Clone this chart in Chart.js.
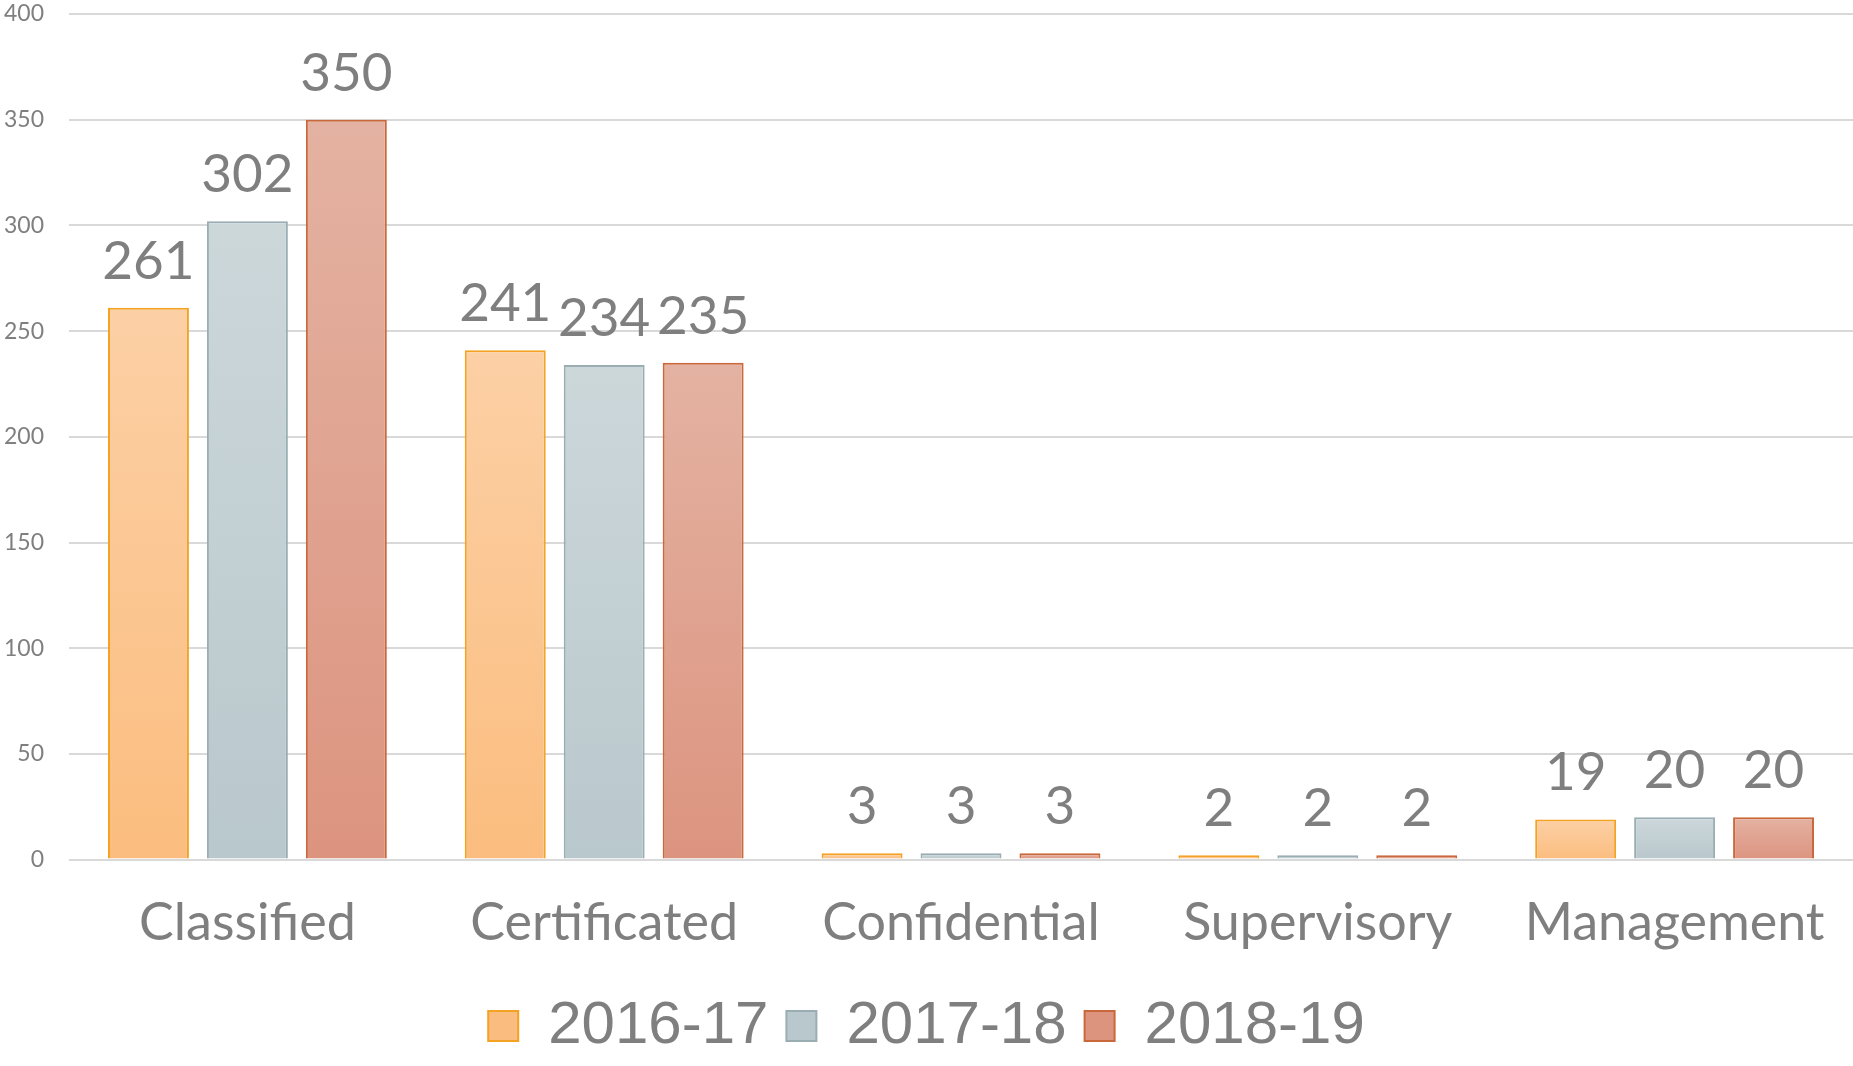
<!DOCTYPE html>
<html>
<head>
<meta charset="utf-8">
<script src="https://cdn.jsdelivr.net/npm/chart.js@4.4.1/dist/chart.umd.min.js"></script>
<style>
  html, body { margin: 0; padding: 0; background: #fff; }
  #wrap { width: 1853px; height: 1066px; }
</style>
</head>
<body>
<div id="wrap"><canvas id="grafico" width="1853" height="1066"></canvas></div>
<script>
const categorias = ['Classified', 'Certificated', 'Confidential', 'Supervisory', 'Management'];
const serie201617 = [261, 241, 3, 2, 19];
const serie201718 = [302, 234, 3, 2, 20];
const serie201819 = [350, 235, 3, 2, 20];
const yTicks = [0, 50, 100, 150, 200, 250, 300, 350, 400];

const gris = '#7f7f7f';

// relleno degradado por barra (claro arriba, más oscuro abajo)
function relleno(arriba, abajo) {
  return (c) => {
    const chart = c.chart;
    if (!chart.chartArea || c.type !== 'data') return abajo;
    const y = chart.scales.y;
    const y0 = y.getPixelForValue(0);
    const y1 = y.getPixelForValue(c.raw);
    if (y0 - y1 < 1) return arriba;
    const g = chart.ctx.createLinearGradient(0, y1, 0, y0);
    g.addColorStop(0, arriba);
    g.addColorStop(1, abajo);
    return g;
  };
}

// etiquetas de valor encima de cada barra
const etiquetas = {
  id: 'etiquetas',
  afterDatasetsDraw(chart) {
    const ctx = chart.ctx;
    ctx.save();
    ctx.font = '53px Lato';
    ctx.fillStyle = gris;
    ctx.textAlign = 'center';
    ctx.textBaseline = 'alphabetic';
    chart.data.datasets.forEach((ds, i) => {
      chart.getDatasetMeta(i).data.forEach((bar, j) => {
        ctx.fillText(String(ds.data[j]), bar.x, bar.y - 29);
      });
    });
    ctx.restore();
  }
};

const ctx = document.getElementById('grafico').getContext('2d');
const grafico = new Chart(ctx, {
  type: 'bar',
  data: {
    labels: categorias,
    datasets: [
      {
        label: '2016-17',
        data: serie201617,
        backgroundColor: relleno('#fcd0a5', '#fbbd7f'),
        borderColor: '#f4a223',
        borderWidth: 2
      },
      {
        label: '2017-18',
        data: serie201718,
        backgroundColor: relleno('#ccd7da', '#b9c8cd'),
        borderColor: '#9aadb3',
        borderWidth: 2
      },
      {
        label: '2018-19',
        data: serie201819,
        backgroundColor: relleno('#e4b2a2', '#dc947f'),
        borderColor: '#c9683a',
        borderWidth: 2
      }
    ]
  },
  options: {
    responsive: false,
    animation: false,
    layout: { padding: { left: 0, right: 0, top: 0, bottom: 0 } },
    datasets: {
      bar: { categoryPercentage: 0.832, barPercentage: 0.818 }
    },
    scales: {
      x: {
        grid: { display: false },
        border: { display: false },
        ticks: { color: gris, font: { family: 'Lato', size: 52 }, padding: 24 }
      },
      y: {
        min: 0,
        max: 400,
        afterBuildTicks: (axis) => { axis.ticks = yTicks.map(v => ({ value: v })); },
        afterFit: (axis) => {
          axis.width = 69;
          axis.paddingTop = 14;
          axis.paddingBottom = 0;
        },
        grid: { color: '#d9d9d9', lineWidth: 2, drawTicks: false },
        border: { display: false },
        ticks: { color: gris, font: { family: 'Lato', size: 23 }, padding: 25 }
      }
    },
    plugins: {
      legend: {
        position: 'bottom',
        labels: {
          color: gris,
          font: { family: 'Liberation Sans', size: 60 },
          boxWidth: 30,
          boxHeight: 30,
          padding: 18
        }
      },
      tooltip: { enabled: false }
    }
  },
  plugins: [etiquetas]
});
</script>
</body>
</html>
